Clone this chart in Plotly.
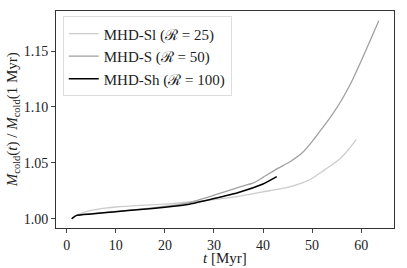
import plotly.graph_objects as go

# MHD-Sl (R = 25)
t_sl = [1, 2, 3, 5, 7, 10, 15, 20, 25, 30, 35, 40, 45, 48, 50, 52, 54, 56, 58, 59]
m_sl = [1.000, 1.003, 1.005, 1.0075, 1.009, 1.0105, 1.012, 1.013, 1.015, 1.017,
        1.020, 1.024, 1.028, 1.032, 1.036, 1.042, 1.048, 1.055, 1.065, 1.071]

# MHD-S (R = 50)
t_s = [1, 2, 5, 10, 15, 20, 25, 30, 35, 38, 40, 43, 45.5, 48, 50, 52, 54, 56, 58, 60, 62, 63.6]
m_s = [1.000, 1.003, 1.0045, 1.0065, 1.0085, 1.011, 1.0145, 1.021, 1.028, 1.032, 1.037,
       1.045, 1.051, 1.059, 1.069, 1.0805, 1.0925, 1.106, 1.122, 1.141, 1.161, 1.177]

# MHD-Sh (R = 100)
t_sh = [1, 2, 5, 10, 15, 20, 25, 30, 35, 40, 42.8]
m_sh = [1.000, 1.003, 1.0043, 1.0063, 1.0082, 1.0103, 1.013, 1.018, 1.0235, 1.031, 1.0376]

names = ["MHD-Sl (ℛ = 25)", "MHD-S (ℛ = 50)", "MHD-Sh (ℛ = 100)"]
colors = ["#cccccc", "#a0a0a0", "#000000"]
widths = [1.3, 1.3, 1.5]

x_ticks = [0, 10, 20, 30, 40, 50, 60]
y_ticks = [1.00, 1.05, 1.10, 1.15]
y_tick_labels = ["1.00", "1.05", "1.10", "1.15"]
x_title = "<i>t</i> [Myr]"
y_title = "<i>M</i><sub>cold</sub>(<i>t</i>) / <i>M</i><sub>cold</sub>(1 Myr)"

fig = go.Figure()
for t, m, n, c, w in zip([t_sl, t_s, t_sh], [m_sl, m_s, m_sh], names, colors, widths):
    fig.add_trace(go.Scatter(x=t, y=m, mode="lines", name=n,
                             line=dict(color=c, width=w, shape="spline", smoothing=0.5)))

font_fam = "Liberation Serif"
fig.update_layout(
    width=407, height=268,
    margin=dict(l=56, r=13, t=11, b=40),
    paper_bgcolor="white", plot_bgcolor="white",
    font=dict(family=font_fam, size=15, color="#222"),
    showlegend=True,
    legend=dict(x=0.02, y=0.975, xanchor="left", yanchor="top",
                bgcolor="white", bordercolor="#dddddd", borderwidth=1,
                font=dict(size=15, family=font_fam), tracegroupgap=0,
                itemwidth=30),
    annotations=[
        dict(text=x_title, xref="paper", yref="paper", x=0.5, y=-0.138,
             xanchor="center", yanchor="middle", showarrow=False,
             font=dict(size=15, family=font_fam)),
        dict(text=y_title, xref="paper", yref="paper", x=-0.128, y=0.5,
             xanchor="center", yanchor="middle", showarrow=False, textangle=-90,
             font=dict(size=15, family=font_fam)),
    ],
)
fig.update_xaxes(range=[-2.2, 66.7], tickvals=x_ticks, ticks="outside", ticklen=4,
                 showline=True, linecolor="#333", linewidth=1, mirror=True,
                 showgrid=False, zeroline=False, automargin=False,
                 tickfont=dict(size=14, family=font_fam))
fig.update_yaxes(range=[0.9917, 1.1858], tickvals=y_ticks, ticktext=y_tick_labels,
                 ticks="outside", ticklen=4,
                 showline=True, linecolor="#333", linewidth=1, mirror=True,
                 showgrid=False, zeroline=False, automargin=False,
                 tickfont=dict(size=14, family=font_fam))

fig.write_html("out.html", config={"displayModeBar": False},
               post_script="document.body.style.margin='0px';")
